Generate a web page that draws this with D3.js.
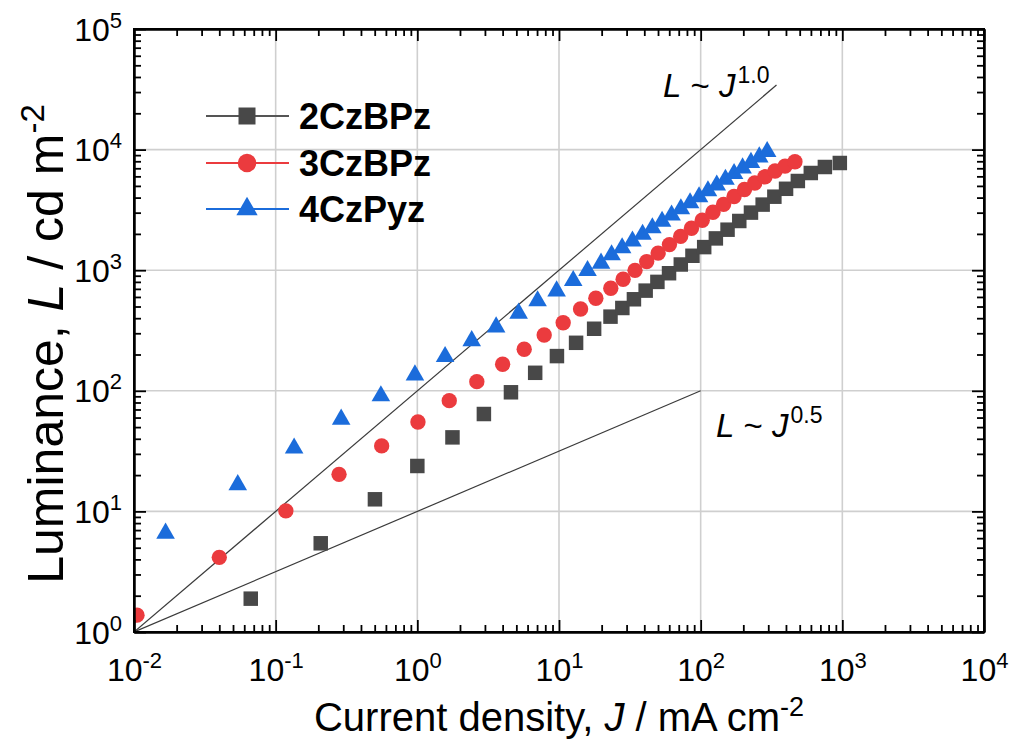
<!DOCTYPE html>
<html><head><meta charset="utf-8">
<script src="https://cdn.jsdelivr.net/npm/d3@7"></script>
<style>
body{margin:0;background:#fff}
svg{display:block}
text{font-family:"Liberation Sans",Arial,sans-serif;fill:#000}
</style></head>
<body>
<svg id="chart" width="1012" height="753"></svg>
<script>
// ---- data ----
const seriesNames = ["2CzBPz", "3CzBPz", "4CzPyz"];

const J_2CzBPz = [0.0667,0.208,0.502,1.0,1.77,2.95,4.58,6.79,9.67,13.2,17.7,23.1,28.0,33.8,40.9,49.5,59.8,72.4,87.5,105.9,128,154.8,187.3,226.5,273.9,331.3,400.6,485.3,599,753,960];
const L_2CzBPz = [1.89,5.44,12.6,23.8,41.1,64.2,97.2,141,194,250,327,412,486,574,677,800,944,1115,1317,1554,1835,2167,2559,3003,3499,4069,4732,5491,6397,7173,7743];

const J_3CzBPz = [0.0105,0.040,0.118,0.28,0.56,1.01,1.68,2.63,4.0,5.68,7.86,10.7,14.2,18.2,23.2,28.35,34.4,41.6,50.1,60.2,72.2,86.1,102.6,122.1,145.1,172.1,203.8,240.9,284.3,335.2,394.2,462.9];
const L_3CzBPz = [1.38,4.16,10.1,20.3,34.9,55.1,82.8,119,166,221,290,367,477,585,708,842,998,1179,1386,1631,1907,2226,2597,3021,3512,4083,4669,5286,5951,6645,7285,7937];

const J_4CzPyz = [0.0167,0.054,0.135,0.29,0.553,0.962,1.57,2.42,3.6,5.19,7.06,9.62,12.6,15.9,19.8,23.5,27.9,33.0,38.9,45.6,53.4,62.3,72.5,84.2,97.4,112.6,129.9,149.6,172.1,197.6,226.5,259.2,294.7];
const L_4CzPyz = [6.58,16.6,33.4,58,90.6,135,192,260,338,439,556,672,818,991,1140,1337,1528,1740,1977,2243,2534,2858,3217,3614,4054,4537,5069,5660,6313,7024,7816,8682,9607];

// guide power-law lines (end points)
const guide10J = [0.01, 343];
const guide10L = [1, 34300];
const guide05J = [0.01, 100];
const guide05L = [1, 100];

const xTickValues = [1e-2,1e-1,1e0,1e1,1e2,1e3,1e4];
const xTickExp = ["-2","-1","0","1","2","3","4"];
const yTickValues = [1e0,1e1,1e2,1e3,1e4,1e5];
const yTickExp = ["0","1","2","3","4","5"];

const colors = ["#484848", "#eb3b3e", "#1b6cdb"];
const lineColors = ["#555555", "#eb3b3e", "#1b6cdb"];

// ---- layout ----
const L0 = 134, R0 = 984, T0 = 29, B0 = 632;
const svg = d3.select("#chart");
const x = d3.scaleLog().domain([1e-2, 1e4]).range([L0, R0]);
const y = d3.scaleLog().domain([1, 1e5]).range([B0, T0]);

function minors(lo, hi) {
  const out = [];
  for (let e = lo; e < hi; e++) for (let m = 2; m <= 9; m++) out.push(m * Math.pow(10, e));
  return out;
}
const xMinor = minors(-2, 4);
const yMinor = minors(0, 5);

// grid
const grid = svg.append("g");
grid.selectAll("line.gx").data(xTickValues.slice(1, -1)).join("line")
  .attr("x1", d => x(d)).attr("x2", d => x(d)).attr("y1", T0).attr("y2", B0)
  .attr("stroke", "#cfcfcf").attr("stroke-width", 1.6);
grid.selectAll("line.gy").data(yTickValues.slice(1, -1)).join("line")
  .attr("y1", d => y(d)).attr("y2", d => y(d)).attr("x1", L0).attr("x2", R0)
  .attr("stroke", "#cfcfcf").attr("stroke-width", 1.6);

// clip
svg.append("clipPath").attr("id", "clip").append("rect")
  .attr("x", L0).attr("y", T0).attr("width", R0 - L0).attr("height", B0 - T0);

// guide lines
const gl = svg.append("g").attr("clip-path", "url(#clip)");
gl.append("line").attr("x1", x(guide10J[0])).attr("y1", y(guide10L[0]))
  .attr("x2", x(guide10J[1])).attr("y2", y(guide10L[1]))
  .attr("stroke", "#3a3a3a").attr("stroke-width", 1.2);
gl.append("line").attr("x1", x(guide05J[0])).attr("y1", y(guide05L[0]))
  .attr("x2", x(guide05J[1])).attr("y2", y(guide05L[1]))
  .attr("stroke", "#3a3a3a").attr("stroke-width", 1.2);

// markers
const symTypes = [d3.symbolSquare, d3.symbolCircle, d3.symbolTriangle];
const symSizes = [210, 185, 150];
const allJ = [J_2CzBPz, J_3CzBPz, J_4CzPyz];
const allL = [L_2CzBPz, L_3CzBPz, L_4CzPyz];
const mk = svg.append("g").attr("clip-path", "url(#clip)");
allJ.forEach((Js, si) => {
  const pts = Js.map((j, i) => [j, allL[si][i]]);
  mk.append("g").selectAll("path").data(pts).join("path")
    .attr("d", d3.symbol().type(symTypes[si]).size(symSizes[si]))
    .attr("transform", d => `translate(${x(d[0])},${y(d[1])})`)
    .attr("fill", colors[si]);
});

// axes (ticks inward)
function styleAxis(g) {
  g.select(".domain").attr("stroke", "#000").attr("stroke-width", 2);
  g.selectAll(".tick line").attr("stroke", "#000").attr("stroke-width", 1.8);
  g.selectAll(".tick text").remove();
}
const mkAxis = (axisFn, scale, vals, len) => axisFn(scale).tickValues(vals).tickSizeInner(-len).tickSizeOuter(0).tickFormat("");

svg.append("g").attr("transform", `translate(0,${B0})`).call(mkAxis(d3.axisBottom, x, xMinor, 7)).call(styleAxis);
svg.append("g").attr("transform", `translate(0,${T0})`).call(mkAxis(d3.axisTop, x, xMinor, 7)).call(styleAxis);
svg.append("g").attr("transform", `translate(${L0},0)`).call(mkAxis(d3.axisLeft, y, yMinor, 7)).call(styleAxis);
svg.append("g").attr("transform", `translate(${R0},0)`).call(mkAxis(d3.axisRight, y, yMinor, 7)).call(styleAxis);
const xb = svg.append("g").attr("transform", `translate(0,${B0})`).call(mkAxis(d3.axisBottom, x, xTickValues, 12)).call(styleAxis);
svg.append("g").attr("transform", `translate(0,${T0})`).call(mkAxis(d3.axisTop, x, xTickValues, 12)).call(styleAxis);
const yl = svg.append("g").attr("transform", `translate(${L0},0)`).call(mkAxis(d3.axisLeft, y, yTickValues, 12)).call(styleAxis);
svg.append("g").attr("transform", `translate(${R0},0)`).call(mkAxis(d3.axisRight, y, yTickValues, 12)).call(styleAxis);
svg.append("rect").attr("x", L0).attr("y", T0).attr("width", R0 - L0).attr("height", B0 - T0)
  .attr("fill", "none").attr("stroke", "#000").attr("stroke-width", 2);

// tick labels
xb.selectAll(".tick").each(function(d, i) {
  const t = d3.select(this).append("text").attr("x", 0).attr("y", 49)
    .attr("text-anchor", "middle").attr("font-size", 32).attr("fill", "#000");
  t.append("tspan").text("10");
  t.append("tspan").attr("dy", -13).attr("font-size", 22).text(xTickExp[i]);
});
yl.selectAll(".tick").each(function(d, i) {
  const t = d3.select(this).append("text").attr("x", -12).attr("y", 11)
    .attr("text-anchor", "end").attr("font-size", 32).attr("fill", "#000");
  t.append("tspan").text("10");
  t.append("tspan").attr("dy", -13).attr("font-size", 22).text(yTickExp[i]);
});

// axis titles
const xt = svg.append("text").attr("x", (L0 + R0) / 2).attr("y", 731)
  .attr("text-anchor", "middle").attr("font-size", 40);
xt.append("tspan").text("Current density, ");
xt.append("tspan").attr("font-style", "italic").text("J");
xt.append("tspan").text(" / mA cm");
xt.append("tspan").attr("dy", -15).attr("font-size", 27).text("-2");

const yt = svg.append("text").attr("transform", "translate(63,344) rotate(-90)")
  .attr("text-anchor", "middle").attr("font-size", 50);
yt.append("tspan").text("Luminance, ");
yt.append("tspan").attr("font-style", "italic").text("L");
yt.append("tspan").text(" / cd m");
yt.append("tspan").attr("dy", -19).attr("font-size", 33).text("-2");

// guide labels
function guideLabel(px, py, exp) {
  const t = svg.append("text").attr("x", px).attr("y", py).attr("font-size", 33);
  t.append("tspan").attr("font-style", "italic").text("L");
  t.append("tspan").text(" ~ ");
  t.append("tspan").attr("font-style", "italic").text("J");
  t.append("tspan").attr("dx", 2).attr("dy", -14).attr("font-size", 23).text(exp);
}
guideLabel(663, 97, "1.0");
guideLabel(716, 437, "0.5");

// legend
const legRows = [116, 163, 209];
const legSizes = [289, 270, 195];
seriesNames.forEach((name, i) => {
  const g = svg.append("g");
  g.append("line").attr("x1", 206).attr("x2", 289).attr("y1", legRows[i]).attr("y2", legRows[i])
    .attr("stroke", lineColors[i]).attr("stroke-width", 2);
  g.append("path").attr("d", d3.symbol().type(symTypes[i]).size(legSizes[i]))
    .attr("transform", `translate(247,${legRows[i]})`).attr("fill", colors[i]);
  g.append("text").attr("x", 299).attr("y", legRows[i] + 13)
    .attr("font-size", 36).attr("font-weight", "bold").text(name);
});
</script>
</body></html>
